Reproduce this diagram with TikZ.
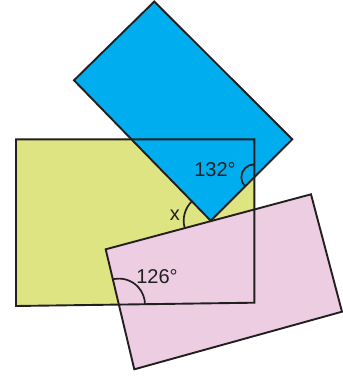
\documentclass[tikz,border=0pt]{standalone}
\usepackage{fontspec}
\setmainfont{Liberation Sans}
\definecolor{yel}{RGB}{222,228,130}
\definecolor{blu}{RGB}{0,174,239}
\definecolor{pnk}{RGB}{236,205,226}
\definecolor{ink}{RGB}{35,31,32}
\begin{document}
\begin{tikzpicture}[x=1pt,y=-1pt,
  edge/.style={draw=ink,line width=1.9pt,line join=miter},
  arcline/.style={draw=ink,line width=1.7pt},
  lbl/.style={text=ink,font=\fontsize{20}{24}\selectfont,inner sep=0pt}]
\useasboundingbox (0,0) rectangle (343,376);
% corners
\coordinate (y1) at (16,139.3);
\coordinate (y2) at (254.3,139.3);
\coordinate (y3) at (254.3,302.7);
\coordinate (y4) at (16,306);
\coordinate (b1) at (154.3,1.5);
\coordinate (b2) at (292.3,139.3);
\coordinate (b3) at (210.7,220.7);
\coordinate (b4) at (74,80.3);
\coordinate (p1) at (105.7,249.3);
\coordinate (p2) at (311,194.3);
\coordinate (p3) at (342,311.7);
\coordinate (p4) at (134.3,369.3);
% fills
\fill[yel] (y1) -- (y2) -- (y3) -- (y4) -- cycle;
\fill[blu] (b1) -- (b2) -- (b3) -- (b4) -- cycle;
\fill[pnk] (p1) -- (p2) -- (p3) -- (p4) -- cycle;
% borders
\draw[edge] (y1) -- (y2) -- (y3) -- (y4) -- cycle;
\draw[edge] (b1) -- (b2) -- (b3) -- (b4) -- cycle;
\draw[edge] (p1) -- (p2) -- (p3) -- (p4) -- cycle;
% angle arcs
\coordinate (c132) at (254.3,177.3);
\draw[arcline] (c132) ++(90:-13) arc[start angle=-90,end angle=-225,radius=13];
\coordinate (cx) at (b3);
\draw[arcline] (cx) ++(-135:27) arc[start angle=-135,end angle=-195,radius=27];
\coordinate (c126) at (119,304.6);
\draw[arcline] (c126) ++(-103.4:26) arc[start angle=-103.4,end angle=0,radius=26];
% labels
\node[lbl] (t132) at (215,170) {132°};
\node[lbl] (tx) at (175,215) {x};
\node[lbl] (t126) at (157,277) {126°};
\end{tikzpicture}
\end{document}
